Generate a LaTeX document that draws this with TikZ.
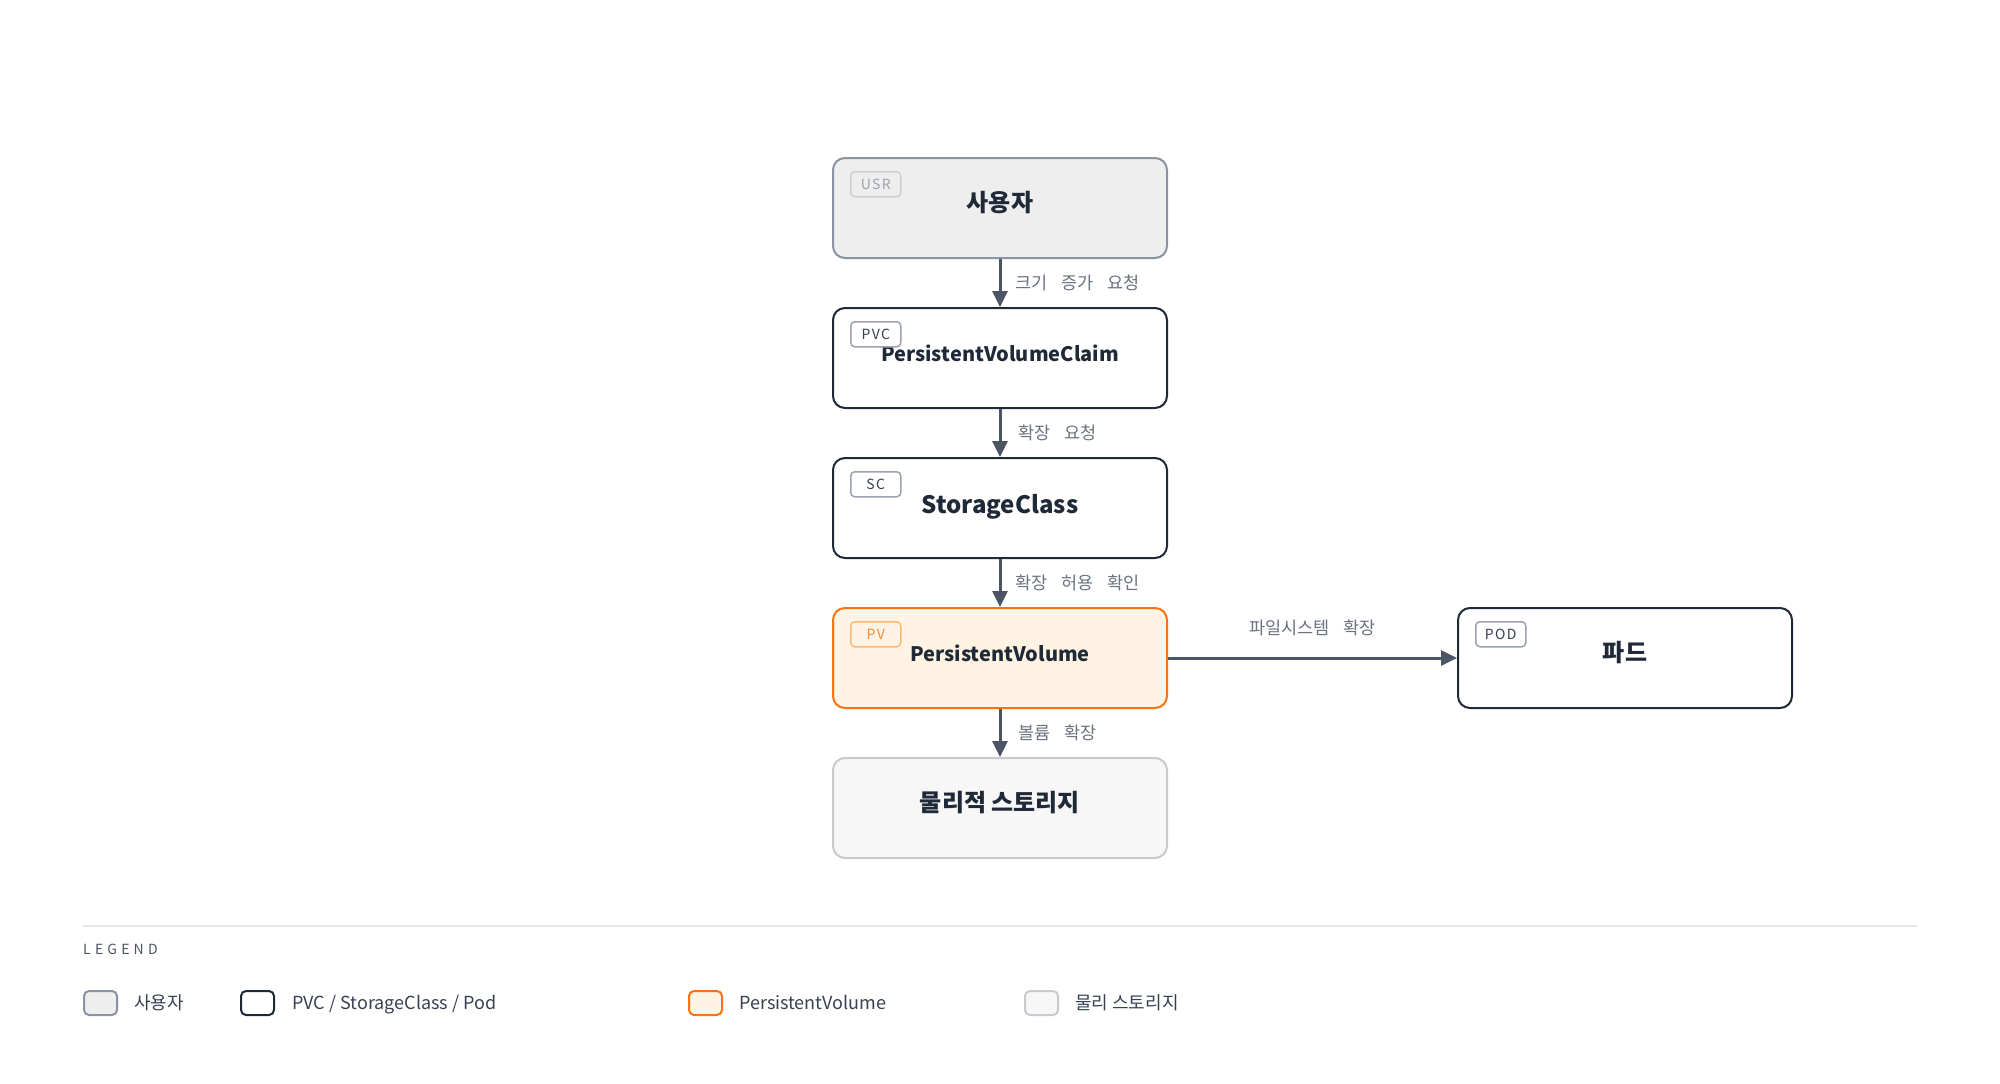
\documentclass[tikz,border=0pt]{standalone}
\usepackage{fontspec}
\setmainfont{Noto Sans CJK KR}
\newfontfamily\lblfont{Noto Sans CJK KR}[WordSpace=3.5]
\newfontfamily\tagfont{Noto Sans CJK KR}[LetterSpace=10]
\newfontfamily\legfont{Noto Sans CJK KR}[LetterSpace=30]
\usetikzlibrary{arrows.meta}
\definecolor{navy}{HTML}{1F2937}
\definecolor{usrfill}{HTML}{EEEEEE}
\definecolor{usrdraw}{HTML}{8A93A3}
\definecolor{pvfill}{HTML}{FFF4E3}
\definecolor{pvdraw}{HTML}{F97316}
\definecolor{phyfill}{HTML}{F7F7F7}
\definecolor{phydraw}{HTML}{C8CACF}
\definecolor{arrcol}{HTML}{4B5563}
\definecolor{lblcol}{HTML}{6B7280}
\definecolor{tagdark}{HTML}{374151}
\definecolor{tagdarkline}{HTML}{9CA3AF}
\definecolor{taglight}{HTML}{9CA3AF}
\definecolor{taglightline}{HTML}{CBD0D6}
\definecolor{tagorange}{HTML}{F28C38}
\definecolor{tagorangeline}{HTML}{FDBA74}
\definecolor{leglinecol}{HTML}{E5E7EB}
\definecolor{legtextcol}{HTML}{374151}
\definecolor{legtitlecol}{HTML}{4B5563}
\begin{document}
\begin{tikzpicture}[x=1pt,y=-1pt,
  box/.style={rectangle, rounded corners=12pt, line width=2pt, minimum width=334pt, minimum height=100pt, inner sep=0pt},
  usrbox/.style={box, fill=usrfill, draw=usrdraw},
  mainbox/.style={box, fill=white, draw=navy},
  pvbox/.style={box, fill=pvfill, draw=pvdraw},
  phybox/.style={box, fill=phyfill, draw=phydraw},
  title/.style={anchor=base, inner sep=0pt, text=navy, font=\fontsize{20}{24}\selectfont\bfseries},
  ktitle/.style={anchor=base, inner sep=0pt, text=navy, font=\fontsize{24}{28}\selectfont\bfseries},
  tagbox/.style={anchor=north west, rectangle, rounded corners=4pt, line width=1.5pt, minimum width=50pt, minimum height=25pt, inner xsep=9pt, inner ysep=0pt, font=\tagfont\fontsize{14}{16}\selectfont},
  tagd/.style={tagbox, draw=tagdarkline, fill=white, text=tagdark},
  tagl/.style={tagbox, draw=taglightline, text=taglight},
  tago/.style={tagbox, draw=tagorangeline, text=tagorange},
  arr/.style={draw=arrcol, line width=3pt, -{Triangle[length=16pt,width=15pt]}},
  lbl/.style={inner sep=0pt, text=lblcol, font=\lblfont\fontsize{17.5}{20}\selectfont},
  swatch/.style={anchor=north west, rectangle, rounded corners=5pt, line width=2pt, minimum width=33pt, minimum height=24pt, inner sep=0pt},
  legtext/.style={anchor=base west, inner sep=0pt, text=legtextcol, font=\fontsize{18}{21}\selectfont},
  legtitle/.style={anchor=base west, inner sep=0pt, text=legtitlecol, font=\legfont\fontsize{14}{16}\selectfont}
]
\useasboundingbox (0,0) rectangle (2000,1084);
\fill[white] (0,0) rectangle (2000,1084);

% boxes
\node[usrbox]  (usr) at (1000,208) {};
\node[mainbox] (pvc) at (1000,358) {};
\node[mainbox] (sc)  at (1000,508) {};
\node[pvbox]   (pv)  at (1000,658) {};
\node[phybox]  (phy) at (1000,808) {};
\node[mainbox] (pod) at (1625,658) {};

% titles
\node[ktitle] (usrt) at (1000,211) {사용자};
\node[title]  (pvct) at (1000,361) {PersistentVolumeClaim};
\node[ktitle] (sct)  at (1000,513) {StorageClass};
\node[title]  (pvt)  at (1000,661) {PersistentVolume};
\node[ktitle] (phyt) at (1000,811) {물리적 스토리지};
\node[ktitle] (podt) at (1625,661) {파드};

% tags
\node[tagl] (usrtag) at (850,171) {USR};
\node[tagd] (pvctag) at (850,321) {PVC};
\node[tagd] (sctag)  at (850,471) {SC};
\node[tago] (pvtag)  at (850,621) {PV};
\node[tagd] (podtag) at (1475,621) {POD};

% connectors
\draw[arr] (usr) -- (pvc) node[lbl, midway, anchor=west, xshift=14pt] {크기 증가 요청};
\draw[arr] (pvc) -- (sc)  node[lbl, midway, anchor=west, xshift=17pt] {확장 요청};
\draw[arr] (sc)  -- (pv)  node[lbl, midway, anchor=west, xshift=14pt] {확장 허용 확인};
\draw[arr] (pv)  -- (phy) node[lbl, midway, anchor=west, xshift=17pt] {볼륨 확장};
\draw[arr] (pv)  -- (pod) node[lbl, midway, yshift=30pt] {파일시스템 확장};

% legend
\draw[leglinecol, line width=2pt] (83,926) -- (1917,926);
\node[legtitle] (legt) at (83,954) {LEGEND};
\node[swatch, fill=usrfill, draw=usrdraw] (sw1) at (83,990) {};
\node[legtext] (lt1) at (134,1009) {사용자};
\node[swatch, fill=white, draw=navy] (sw2) at (240,990) {};
\node[legtext] (lt2) at (292,1009) {PVC / StorageClass / Pod};
\node[swatch, fill=pvfill, draw=pvdraw] (sw3) at (688,990) {};
\node[legtext] (lt3) at (739,1009) {PersistentVolume};
\node[swatch, fill=phyfill, draw=phydraw] (sw4) at (1024,990) {};
\node[legtext] (lt4) at (1075,1009) {물리 스토리지};
\end{tikzpicture}
\end{document}
